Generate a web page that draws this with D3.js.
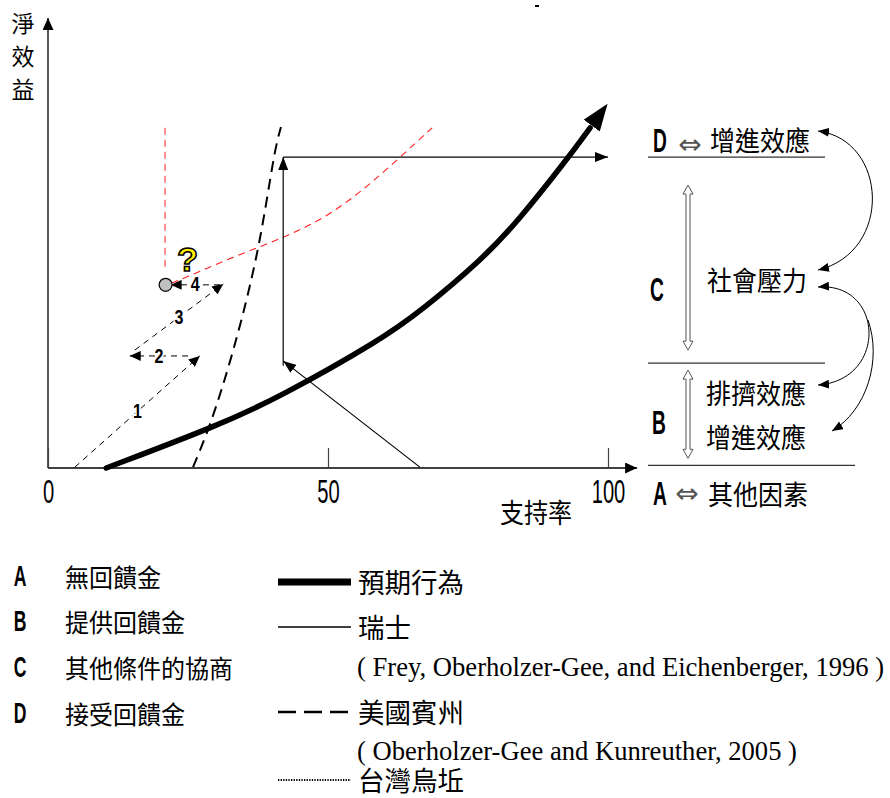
<!DOCTYPE html>
<html>
<head>
<meta charset="utf-8">
<script src="https://cdn.jsdelivr.net/npm/d3@7"></script>
<style>
  body { margin: 0; background: #fff; }
  svg { display: block; }
  text { font-family: "Noto Sans CJK TC", "Noto Sans", sans-serif; fill: #000; }
  .latin { font-family: "Liberation Sans", Arial, sans-serif; }
  .serif { font-family: "Liberation Serif", "Times New Roman", serif; }
  .sym { font-family: "DejaVu Sans", sans-serif; }
</style>
</head>
<body>
<svg></svg>
<script>
// ================= DONNÉES (x = 支持率 0-100, y = 淨效益 0-100) ================= //
const xTicks = [0, 50, 100];

// 預期行為 (courbe épaisse)
const expectedBehavior = [[10.4, 0], [30.7, 9.6], [41.4, 15.8], [59.3, 28.4], [66.5, 34.8],
                          [77.7, 46.6], [83.75, 54.6], [92.7, 68.6], [96.8, 75.6]];

// 瑞士 : trois flèches fines
const swissArrows = [
  { from: [66.4, 0.2], to: [42.0, 23.8] },
  { from: [42.0, 22.7], to: [42.0, 69.1] },
  { from: [42.0, 69.1], to: [100, 69.1] }
];

// 美國賓州 (tirets noirs)
const pennCurve = [[25.9, 0.2], [28.9, 9.1], [32.5, 23.3], [35.5, 37.3], [37.5, 48.4],
                   [39.1, 59.6], [40.5, 70.7], [41.6, 75.8]];

// 台灣烏坵 (tirets rouges)
const taiwanVertical = [[20.9, 75.6], [20.9, 43.6]];
const taiwanCurve = [[22.1, 41.1], [23.6, 41.8], [33.0, 46.9], [42.0, 51.1], [49.8, 55.8],
                     [56.3, 61.8], [62.3, 68.4], [68.6, 75.6]];
const taiwanPoint = [21.0, 40.7];

// étapes numérotées 1-4
const stepArrows = [
  { n: "1", from: [4.8, 0.2], to: [27.1, 24.9] },
  { n: "2", from: [25.0, 24.9], to: [14.6, 24.9] },
  { n: "3", from: [15.5, 26.2], to: [31.3, 40.9] },
  { n: "4", from: [30.7, 40.7], to: [21.9, 40.7] }
];

// panneau de droite
const panelBreaks = [69.1, 23.3, 0.6];
const panelCodes = ["D", "C", "B", "A"];

// légende
const conditionCodes = ["A", "B", "C", "D"];
const conditionLabels = ["無回饋金", "提供回饋金", "其他條件的協商", "接受回饋金"];
const seriesNames = ["預期行為", "瑞士", "美國賓州", "台灣烏坵"];
const seriesRefs = ["( Frey, Oberholzer-Gee, and Eichenberger, 1996 )",
                    "( Oberholzer-Gee and Kunreuther, 2005 )"];

// ================= INITIALISATION ================= //
const width = 890, height = 798;
const svg = d3.select("svg").attr("width", width).attr("height", height);

const x = d3.scaleLinear().domain([0, 100]).range([48, 608]);
const y = d3.scaleLinear().domain([0, 100]).range([468, 18]);
const line = d3.line().x(d => x(d[0])).y(d => y(d[1]));
const smooth = d3.line().x(d => x(d[0])).y(d => y(d[1])).curve(d3.curveBasis);

// marqueurs de flèches
const defs = svg.append("defs");
function marker(id, len, wid, refX) {
  defs.append("marker")
    .attr("id", id)
    .attr("viewBox", "0 0 10 10")
    .attr("refX", refX).attr("refY", 5)
    .attr("markerUnits", "userSpaceOnUse")
    .attr("markerWidth", len).attr("markerHeight", wid)
    .attr("orient", "auto-start-reverse")
    .attr("preserveAspectRatio", "none")
    .append("path").attr("d", "M0,0 L10,5 L0,10 Z").attr("fill", "#000");
}
marker("axisHead", 12, 11, 10);
marker("thinHead", 13, 10, 10);
marker("stepHead", 11, 10, 10);
marker("bigHead", 27, 20, -1);
marker("curveHead", 11, 9, 10);

// texte avec étirement (sx, sy)
function addText(parent, px, py, str, size, opts = {}) {
  const g = parent.append("g")
    .attr("transform", `translate(${px},${py}) scale(${opts.sx || 1},${opts.sy || 1})`);
  return g.append("text").text(str)
    .attr("font-size", size)
    .attr("text-anchor", opts.anchor || "start")
    .attr("dominant-baseline", "central")
    .attr("class", opts.cls || null)
    .attr("font-weight", opts.weight || null);
}

// ================= AXES ================= //
svg.append("path").attr("d", line([[0, 0], [105.2, 0]]))
  .attr("stroke", "#000").attr("stroke-width", 1.3).attr("marker-end", "url(#axisHead)");
svg.append("path").attr("d", line([[0, 0], [0, 100]]))
  .attr("stroke", "#000").attr("stroke-width", 1.3).attr("marker-end", "url(#axisHead)");

const xAxis = svg.append("g")
  .attr("transform", `translate(0,${y(0)})`)
  .call(d3.axisBottom(x).tickValues(xTicks).tickSizeInner(-20).tickSizeOuter(0).tickPadding(0));
xAxis.select(".domain").remove();
xAxis.selectAll("line").attr("stroke", "#444").attr("stroke-width", 1.2);
xAxis.selectAll("text").each(function () {
  const t = d3.select(this);
  t.attr("transform", `translate(${t.attr("x") || 0},23) scale(0.84,1.4)`)
    .attr("x", 0).attr("y", 0).attr("dy", null)
    .attr("dominant-baseline", "central")
    .attr("font-size", 24)
    .style("fill", "#000")
    .style("font-family", "'Liberation Sans',Arial,sans-serif");
});

addText(svg, 536, 511, "支持率", 24, { anchor: "middle", sy: 1.12 });
["淨", "效", "益"].forEach((c, i) => addText(svg, 23, 22 + i * 33, c, 23, { anchor: "middle" }));

// petite marque en haut
svg.append("rect").attr("x", 535).attr("y", 5).attr("width", 4).attr("height", 2).attr("fill", "#000");

// ================= COURBES ================= //
// 台灣烏坵
svg.append("path").attr("d", line(taiwanVertical))
  .attr("fill", "none").attr("stroke", "#ff2020").attr("stroke-width", 1).attr("stroke-dasharray", "7,5");
svg.append("path").attr("d", smooth(taiwanCurve))
  .attr("fill", "none").attr("stroke", "#ff2020").attr("stroke-width", 1.1).attr("stroke-dasharray", "7,5");

// 美國賓州
svg.append("path").attr("d", smooth(pennCurve))
  .attr("fill", "none").attr("stroke", "#000").attr("stroke-width", 2).attr("stroke-dasharray", "11,7");

// 瑞士
swissArrows.forEach(a => {
  svg.append("path").attr("d", line([a.from, a.to]))
    .attr("fill", "none").attr("stroke", "#000").attr("stroke-width", 1.2)
    .attr("marker-end", "url(#thinHead)");
});

// 預期行為
svg.append("path").attr("d", smooth(expectedBehavior))
  .attr("fill", "none").attr("stroke", "#000").attr("stroke-width", 5.5)
  .attr("stroke-linecap", "round")
  .attr("marker-end", "url(#bigHead)");

// étapes numérotées
stepArrows.forEach(a => {
  svg.append("path").attr("d", line([a.from, a.to]))
    .attr("fill", "none").attr("stroke", "#000").attr("stroke-width", 1)
    .attr("stroke-dasharray", "6,5").attr("marker-end", "url(#stepHead)");
  const mx = (x(a.from[0]) + x(a.to[0])) / 2, my = (y(a.from[1]) + y(a.to[1])) / 2;
  addText(svg, mx, my, a.n, 16, { anchor: "middle", weight: "bold", cls: "latin", sy: 1.25 })
    .attr("stroke", "#fff").attr("stroke-width", 3).attr("paint-order", "stroke");
});

// point gris + ?
svg.append("circle").attr("cx", x(taiwanPoint[0])).attr("cy", y(taiwanPoint[1])).attr("r", 6.5)
  .attr("fill", "#c0c0c0").attr("stroke", "#000").attr("stroke-width", 1.2);
addText(svg, x(taiwanPoint[0]) + 22, y(taiwanPoint[1]) - 26, "?", 33, { anchor: "middle", weight: "bold", cls: "latin", sx: 1.05 })
  .style("fill", "#ffee00").attr("stroke", "#000").attr("stroke-width", 1.5);

// ================= PANNEAU DE DROITE ================= //
const panel = svg.append("g");
panelBreaks.forEach((b, i) => {
  panel.append("line")
    .attr("x1", 648).attr("x2", i === 2 ? 855 : 825)
    .attr("y1", y(b)).attr("y2", y(b))
    .attr("stroke", "#333").attr("stroke-width", 1.3);
});

// flèches doubles creuses
function hollowDouble(cx, y1, y2) {
  const s = 2, h = 5, l = 9;
  const d = `M${cx},${y1} L${cx + h},${y1 + l} L${cx + s},${y1 + l} L${cx + s},${y2 - l} L${cx + h},${y2 - l}
             L${cx},${y2} L${cx - h},${y2 - l} L${cx - s},${y2 - l} L${cx - s},${y1 + l} L${cx - h},${y1 + l} Z`;
  panel.append("path").attr("d", d).attr("fill", "#fff").attr("stroke", "#555").attr("stroke-width", 1);
}
hollowDouble(688, y(panelBreaks[0]) + 28, y(panelBreaks[1]) - 13);
hollowDouble(688, y(panelBreaks[1]) + 7, y(panelBreaks[2]) - 7);

const codeOpts = { anchor: "middle", cls: "latin", weight: "bold", sx: 0.8, sy: 1.38 };
addText(panel, 660, y(panelBreaks[0]) - 17, panelCodes[0], 24, codeOpts);
addText(panel, 690, y(panelBreaks[0]) - 13, "⇔", 28, { anchor: "middle", cls: "sym" }).style("fill", "#555");
addText(panel, 760, y(panelBreaks[0]) - 18, "增進效應", 25, { anchor: "middle", sy: 1.1 });

addText(panel, 657, 289, panelCodes[1], 24, codeOpts);
addText(panel, 757, 279, "社會壓力", 25, { anchor: "middle", sy: 1.1 });

addText(panel, 659, 422, panelCodes[2], 24, codeOpts);
addText(panel, 756, 392, "排擠效應", 25, { anchor: "middle", sy: 1.1 });
addText(panel, 756, 436, "增進效應", 25, { anchor: "middle", sy: 1.1 });

addText(panel, 660, y(panelBreaks[2]) + 28, panelCodes[3], 24, codeOpts);
addText(panel, 687, y(panelBreaks[2]) + 28, "⇔", 28, { anchor: "middle", cls: "sym" }).style("fill", "#555");
addText(panel, 758, y(panelBreaks[2]) + 28, "其他因素", 25, { anchor: "middle", sy: 1.1 });

// flèches courbes
const curved = [
  { d: "M818,131 C888,140 893,252 818,270", start: true },
  { d: "M818,287 C884,282 888,380 818,385", start: true },
  { d: "M868,320 C882,360 867,410 832,431", start: false }
];
curved.forEach(c => {
  panel.append("path").attr("d", c.d).attr("fill", "none")
    .attr("stroke", "#000").attr("stroke-width", 1)
    .attr("marker-end", "url(#curveHead)")
    .attr("marker-start", c.start ? "url(#curveHead)" : null);
});

// ================= LÉGENDE ================= //
const legend = svg.append("g");
const condY = [576, 621, 667, 713];
conditionCodes.forEach((c, i) => {
  addText(legend, 20, condY[i], c, 22, codeOpts);
  addText(legend, 65, condY[i], conditionLabels[i], 24, { sy: 1.05 });
});

const rowY = [582, 627, 712, 780];
const styles = [
  { w: 7, dash: null },
  { w: 1.5, dash: null },
  { w: 2.5, dash: "18,8" },
  { w: 2.2, dash: "1.3,1.3" }
];
seriesNames.forEach((n, i) => {
  legend.append("line").attr("x1", 278).attr("x2", 351).attr("y1", rowY[i]).attr("y2", rowY[i])
    .attr("stroke", "#000").attr("stroke-width", styles[i].w)
    .attr("stroke-dasharray", styles[i].dash);
  addText(legend, 358, rowY[i] - 1, n, 26.5, { sy: 1.02 });
});
addText(legend, 357, 667, seriesRefs[0], 26.6, { cls: "serif" });
addText(legend, 357, 751, seriesRefs[1], 26.6, { cls: "serif" });
</script>
</body>
</html>
